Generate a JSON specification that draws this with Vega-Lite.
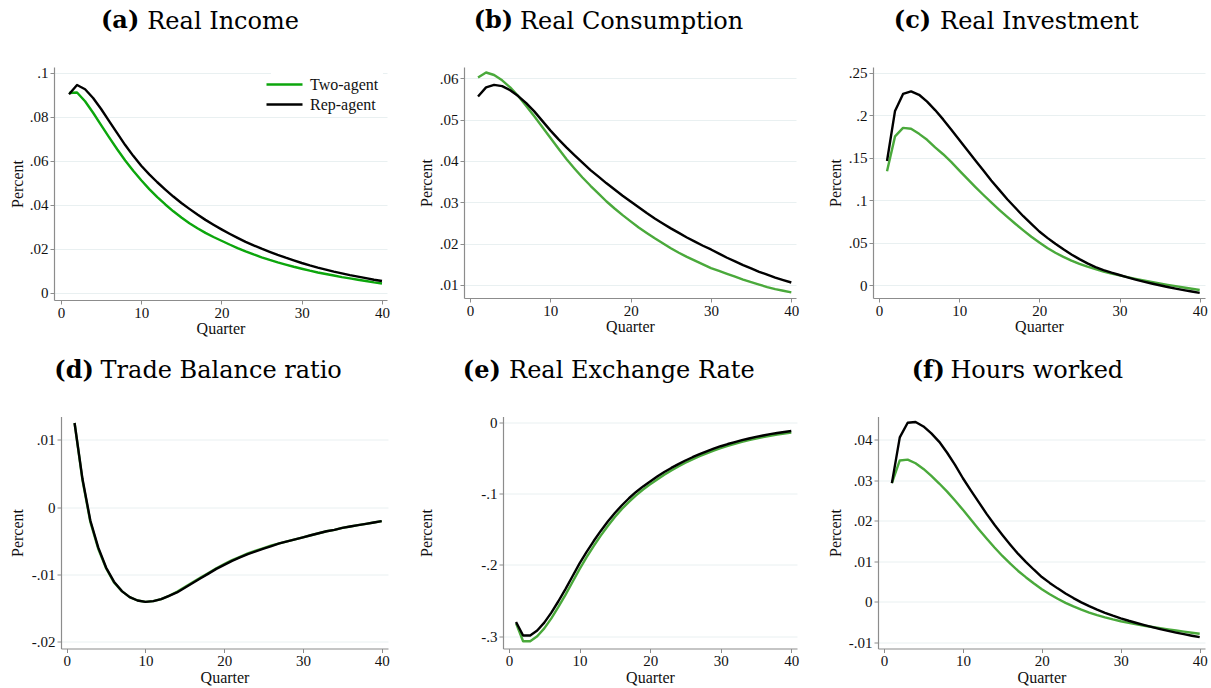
{
  "$schema": "https://vega.github.io/schema/vega-lite/v6.json",
  "background": "white",
  "padding": {"left": 9, "top": 9, "right": 2, "bottom": 2},
  "config": {
    "view": {"stroke": null},
    "font": "Liberation Serif",
    "axis": {
      "labelFont": "Liberation Serif", "labelFontSize": 15, "labelColor": "#111111",
      "titleFont": "Liberation Serif", "titleFontSize": 16, "titleFontWeight": "normal", "titleColor": "#111111",
      "domainColor": "#8c8c8c", "domainWidth": 1.2, "tickColor": "#8c8c8c", "tickSize": 4, "labelPadding": 2,
      "gridColor": "#e9f0f1", "gridWidth": 1, "labelFlush": false, "labelOverlap": false
    },
    "axisX": {"grid": false, "minExtent": 18.5, "maxExtent": 18.5, "titlePadding": 2, "labelPadding": 1, "labelAngle": 0},
    "axisTop": {"domain": false, "ticks": false, "labels": false, "grid": false,
                "titleFont": "DejaVu Serif", "titleFontSize": 24, "titleFontWeight": "normal", "titleColor": "#000000",
                "titleAlign": "left", "titleBaseline": "top", "titleAngle": 0, "titleY": -57.7},
    "axisY": {"grid": true, "titleAngle": 270, "titleBaseline": "alphabetic", "titlePadding": 2,
              "labelExpr": "replace(toString(datum.value), '0.', '.')"},
    "title": {"font": "DejaVu Serif", "fontSize": 24, "fontWeight": "bold", "color": "#000000",
              "anchor": "start", "frame": "group", "baseline": "top", "offset": -24},
    "line": {"strokeWidth": 2.4, "strokeJoin": "round"}
  },
  "datasets": {
    "income": [
      {"quarter": 1, "twoAgent": 0.0908, "repAgent": 0.0902},
      {"quarter": 2, "twoAgent": 0.0910, "repAgent": 0.0944},
      {"quarter": 3, "twoAgent": 0.0870, "repAgent": 0.0925},
      {"quarter": 4, "twoAgent": 0.0818, "repAgent": 0.0885},
      {"quarter": 5, "twoAgent": 0.0762, "repAgent": 0.0835},
      {"quarter": 6, "twoAgent": 0.0706, "repAgent": 0.0780},
      {"quarter": 7, "twoAgent": 0.0652, "repAgent": 0.0725},
      {"quarter": 8, "twoAgent": 0.0601, "repAgent": 0.0671},
      {"quarter": 9, "twoAgent": 0.0554, "repAgent": 0.0622},
      {"quarter": 10, "twoAgent": 0.0511, "repAgent": 0.0577},
      {"quarter": 11, "twoAgent": 0.0471, "repAgent": 0.0538},
      {"quarter": 12, "twoAgent": 0.0434, "repAgent": 0.0502},
      {"quarter": 13, "twoAgent": 0.0401, "repAgent": 0.0469},
      {"quarter": 14, "twoAgent": 0.0370, "repAgent": 0.0437},
      {"quarter": 15, "twoAgent": 0.0342, "repAgent": 0.0408},
      {"quarter": 16, "twoAgent": 0.0316, "repAgent": 0.0381},
      {"quarter": 17, "twoAgent": 0.0293, "repAgent": 0.0355},
      {"quarter": 18, "twoAgent": 0.0272, "repAgent": 0.0331},
      {"quarter": 19, "twoAgent": 0.0253, "repAgent": 0.0309},
      {"quarter": 20, "twoAgent": 0.0236, "repAgent": 0.0288},
      {"quarter": 21, "twoAgent": 0.0219, "repAgent": 0.0268},
      {"quarter": 22, "twoAgent": 0.0203, "repAgent": 0.0249},
      {"quarter": 23, "twoAgent": 0.0188, "repAgent": 0.0231},
      {"quarter": 24, "twoAgent": 0.0174, "repAgent": 0.0215},
      {"quarter": 25, "twoAgent": 0.0161, "repAgent": 0.0200},
      {"quarter": 26, "twoAgent": 0.0149, "repAgent": 0.0186},
      {"quarter": 27, "twoAgent": 0.0138, "repAgent": 0.0172},
      {"quarter": 28, "twoAgent": 0.0128, "repAgent": 0.0159},
      {"quarter": 29, "twoAgent": 0.0118, "repAgent": 0.0147},
      {"quarter": 30, "twoAgent": 0.0109, "repAgent": 0.0135},
      {"quarter": 31, "twoAgent": 0.0100, "repAgent": 0.0124},
      {"quarter": 32, "twoAgent": 0.0092, "repAgent": 0.0114},
      {"quarter": 33, "twoAgent": 0.0085, "repAgent": 0.0105},
      {"quarter": 34, "twoAgent": 0.0078, "repAgent": 0.0096},
      {"quarter": 35, "twoAgent": 0.0071, "repAgent": 0.0088},
      {"quarter": 36, "twoAgent": 0.0065, "repAgent": 0.0080},
      {"quarter": 37, "twoAgent": 0.0059, "repAgent": 0.0073},
      {"quarter": 38, "twoAgent": 0.0053, "repAgent": 0.0066},
      {"quarter": 39, "twoAgent": 0.0047, "repAgent": 0.0059},
      {"quarter": 40, "twoAgent": 0.0042, "repAgent": 0.0053}
    ],
    "consumption": [
      {"quarter": 1, "twoAgent": 0.0602, "repAgent": 0.0556},
      {"quarter": 2, "twoAgent": 0.0614, "repAgent": 0.0578},
      {"quarter": 3, "twoAgent": 0.0608, "repAgent": 0.0584},
      {"quarter": 4, "twoAgent": 0.0595, "repAgent": 0.0581},
      {"quarter": 5, "twoAgent": 0.0578, "repAgent": 0.0571},
      {"quarter": 6, "twoAgent": 0.0557, "repAgent": 0.0557},
      {"quarter": 7, "twoAgent": 0.0533, "repAgent": 0.0540},
      {"quarter": 8, "twoAgent": 0.0508, "repAgent": 0.0520},
      {"quarter": 9, "twoAgent": 0.0482, "repAgent": 0.0497},
      {"quarter": 10, "twoAgent": 0.0456, "repAgent": 0.0474},
      {"quarter": 11, "twoAgent": 0.0430, "repAgent": 0.0453},
      {"quarter": 12, "twoAgent": 0.0405, "repAgent": 0.0433},
      {"quarter": 13, "twoAgent": 0.0382, "repAgent": 0.0414},
      {"quarter": 14, "twoAgent": 0.0360, "repAgent": 0.0396},
      {"quarter": 15, "twoAgent": 0.0340, "repAgent": 0.0378},
      {"quarter": 16, "twoAgent": 0.0321, "repAgent": 0.0362},
      {"quarter": 17, "twoAgent": 0.0302, "repAgent": 0.0346},
      {"quarter": 18, "twoAgent": 0.0285, "repAgent": 0.0331},
      {"quarter": 19, "twoAgent": 0.0269, "repAgent": 0.0316},
      {"quarter": 20, "twoAgent": 0.0254, "repAgent": 0.0302},
      {"quarter": 21, "twoAgent": 0.0239, "repAgent": 0.0288},
      {"quarter": 22, "twoAgent": 0.0226, "repAgent": 0.0274},
      {"quarter": 23, "twoAgent": 0.0213, "repAgent": 0.0261},
      {"quarter": 24, "twoAgent": 0.0201, "repAgent": 0.0249},
      {"quarter": 25, "twoAgent": 0.0189, "repAgent": 0.0237},
      {"quarter": 26, "twoAgent": 0.0178, "repAgent": 0.0226},
      {"quarter": 27, "twoAgent": 0.0168, "repAgent": 0.0215},
      {"quarter": 28, "twoAgent": 0.0159, "repAgent": 0.0205},
      {"quarter": 29, "twoAgent": 0.0150, "repAgent": 0.0195},
      {"quarter": 30, "twoAgent": 0.0141, "repAgent": 0.0186},
      {"quarter": 31, "twoAgent": 0.0134, "repAgent": 0.0176},
      {"quarter": 32, "twoAgent": 0.0127, "repAgent": 0.0166},
      {"quarter": 33, "twoAgent": 0.0120, "repAgent": 0.0157},
      {"quarter": 34, "twoAgent": 0.0113, "repAgent": 0.0148},
      {"quarter": 35, "twoAgent": 0.0107, "repAgent": 0.0140},
      {"quarter": 36, "twoAgent": 0.0101, "repAgent": 0.0132},
      {"quarter": 37, "twoAgent": 0.0095, "repAgent": 0.0125},
      {"quarter": 38, "twoAgent": 0.0090, "repAgent": 0.0118},
      {"quarter": 39, "twoAgent": 0.0086, "repAgent": 0.0112},
      {"quarter": 40, "twoAgent": 0.0082, "repAgent": 0.0106}
    ],
    "investment": [
      {"quarter": 1, "twoAgent": 0.134, "repAgent": 0.146},
      {"quarter": 2, "twoAgent": 0.175, "repAgent": 0.205},
      {"quarter": 3, "twoAgent": 0.185, "repAgent": 0.225},
      {"quarter": 4, "twoAgent": 0.184, "repAgent": 0.228},
      {"quarter": 5, "twoAgent": 0.178, "repAgent": 0.224},
      {"quarter": 6, "twoAgent": 0.171, "repAgent": 0.216},
      {"quarter": 7, "twoAgent": 0.162, "repAgent": 0.206},
      {"quarter": 8, "twoAgent": 0.154, "repAgent": 0.195},
      {"quarter": 9, "twoAgent": 0.145, "repAgent": 0.183},
      {"quarter": 10, "twoAgent": 0.135, "repAgent": 0.171},
      {"quarter": 11, "twoAgent": 0.1252, "repAgent": 0.159},
      {"quarter": 12, "twoAgent": 0.1156, "repAgent": 0.147},
      {"quarter": 13, "twoAgent": 0.1063, "repAgent": 0.135},
      {"quarter": 14, "twoAgent": 0.0973, "repAgent": 0.123},
      {"quarter": 15, "twoAgent": 0.0886, "repAgent": 0.112},
      {"quarter": 16, "twoAgent": 0.0802, "repAgent": 0.101},
      {"quarter": 17, "twoAgent": 0.0721, "repAgent": 0.091},
      {"quarter": 18, "twoAgent": 0.0643, "repAgent": 0.081},
      {"quarter": 19, "twoAgent": 0.0568, "repAgent": 0.072},
      {"quarter": 20, "twoAgent": 0.0500, "repAgent": 0.063},
      {"quarter": 21, "twoAgent": 0.0436, "repAgent": 0.0555},
      {"quarter": 22, "twoAgent": 0.0380, "repAgent": 0.0485},
      {"quarter": 23, "twoAgent": 0.0331, "repAgent": 0.0420},
      {"quarter": 24, "twoAgent": 0.0288, "repAgent": 0.0360},
      {"quarter": 25, "twoAgent": 0.0250, "repAgent": 0.0305},
      {"quarter": 26, "twoAgent": 0.0216, "repAgent": 0.0255},
      {"quarter": 27, "twoAgent": 0.0186, "repAgent": 0.0210},
      {"quarter": 28, "twoAgent": 0.0159, "repAgent": 0.0175},
      {"quarter": 29, "twoAgent": 0.0135, "repAgent": 0.0145},
      {"quarter": 30, "twoAgent": 0.0114, "repAgent": 0.0118},
      {"quarter": 31, "twoAgent": 0.0093, "repAgent": 0.0090},
      {"quarter": 32, "twoAgent": 0.0073, "repAgent": 0.0064},
      {"quarter": 33, "twoAgent": 0.0054, "repAgent": 0.0040},
      {"quarter": 34, "twoAgent": 0.0036, "repAgent": 0.0018},
      {"quarter": 35, "twoAgent": 0.0019, "repAgent": -0.0003},
      {"quarter": 36, "twoAgent": 0.0002, "repAgent": -0.0023},
      {"quarter": 37, "twoAgent": -0.0014, "repAgent": -0.0042},
      {"quarter": 38, "twoAgent": -0.0029, "repAgent": -0.0060},
      {"quarter": 39, "twoAgent": -0.0044, "repAgent": -0.0077},
      {"quarter": 40, "twoAgent": -0.0059, "repAgent": -0.0092}
    ],
    "trade": [
      {"quarter": 1, "twoAgent": 0.0125, "repAgent": 0.0125},
      {"quarter": 2, "twoAgent": 0.0040, "repAgent": 0.0042},
      {"quarter": 3, "twoAgent": -0.0022, "repAgent": -0.0020},
      {"quarter": 4, "twoAgent": -0.0062, "repAgent": -0.0060},
      {"quarter": 5, "twoAgent": -0.0091, "repAgent": -0.0090},
      {"quarter": 6, "twoAgent": -0.0112, "repAgent": -0.0111},
      {"quarter": 7, "twoAgent": -0.0125, "repAgent": -0.0125},
      {"quarter": 8, "twoAgent": -0.0134, "repAgent": -0.0134},
      {"quarter": 9, "twoAgent": -0.0139, "repAgent": -0.0139},
      {"quarter": 10, "twoAgent": -0.0141, "repAgent": -0.0141},
      {"quarter": 11, "twoAgent": -0.0140, "repAgent": -0.0140},
      {"quarter": 12, "twoAgent": -0.0137, "repAgent": -0.0137},
      {"quarter": 13, "twoAgent": -0.0132, "repAgent": -0.0132},
      {"quarter": 14, "twoAgent": -0.0126, "repAgent": -0.0127},
      {"quarter": 15, "twoAgent": -0.0119, "repAgent": -0.0120},
      {"quarter": 16, "twoAgent": -0.0112, "repAgent": -0.0113},
      {"quarter": 17, "twoAgent": -0.0105, "repAgent": -0.0106},
      {"quarter": 18, "twoAgent": -0.0098, "repAgent": -0.0099},
      {"quarter": 19, "twoAgent": -0.0091, "repAgent": -0.0092},
      {"quarter": 20, "twoAgent": -0.0085, "repAgent": -0.0086},
      {"quarter": 21, "twoAgent": -0.0079, "repAgent": -0.0080},
      {"quarter": 22, "twoAgent": -0.0074, "repAgent": -0.0075},
      {"quarter": 23, "twoAgent": -0.0069, "repAgent": -0.0070},
      {"quarter": 24, "twoAgent": -0.0065, "repAgent": -0.0066},
      {"quarter": 25, "twoAgent": -0.0061, "repAgent": -0.0062},
      {"quarter": 26, "twoAgent": -0.0057, "repAgent": -0.0058},
      {"quarter": 27, "twoAgent": -0.0054, "repAgent": -0.0054},
      {"quarter": 28, "twoAgent": -0.0051, "repAgent": -0.0051},
      {"quarter": 29, "twoAgent": -0.0048, "repAgent": -0.0048},
      {"quarter": 30, "twoAgent": -0.0045, "repAgent": -0.0045},
      {"quarter": 31, "twoAgent": -0.0042, "repAgent": -0.0042},
      {"quarter": 32, "twoAgent": -0.0039, "repAgent": -0.0039},
      {"quarter": 33, "twoAgent": -0.0036, "repAgent": -0.0036},
      {"quarter": 34, "twoAgent": -0.0034, "repAgent": -0.0034},
      {"quarter": 35, "twoAgent": -0.0031, "repAgent": -0.0031},
      {"quarter": 36, "twoAgent": -0.0029, "repAgent": -0.0029},
      {"quarter": 37, "twoAgent": -0.0027, "repAgent": -0.0027},
      {"quarter": 38, "twoAgent": -0.0025, "repAgent": -0.0025},
      {"quarter": 39, "twoAgent": -0.0023, "repAgent": -0.0023},
      {"quarter": 40, "twoAgent": -0.0021, "repAgent": -0.0021}
    ],
    "exchange": [
      {"quarter": 1, "twoAgent": -0.282, "repAgent": -0.280},
      {"quarter": 2, "twoAgent": -0.307, "repAgent": -0.299},
      {"quarter": 3, "twoAgent": -0.307, "repAgent": -0.299},
      {"quarter": 4, "twoAgent": -0.300, "repAgent": -0.292},
      {"quarter": 5, "twoAgent": -0.289, "repAgent": -0.281},
      {"quarter": 6, "twoAgent": -0.275, "repAgent": -0.267},
      {"quarter": 7, "twoAgent": -0.259, "repAgent": -0.251},
      {"quarter": 8, "twoAgent": -0.242, "repAgent": -0.234},
      {"quarter": 9, "twoAgent": -0.224, "repAgent": -0.216},
      {"quarter": 10, "twoAgent": -0.206, "repAgent": -0.198},
      {"quarter": 11, "twoAgent": -0.1893, "repAgent": -0.1818},
      {"quarter": 12, "twoAgent": -0.1736, "repAgent": -0.1666},
      {"quarter": 13, "twoAgent": -0.1590, "repAgent": -0.1524},
      {"quarter": 14, "twoAgent": -0.1455, "repAgent": -0.1393},
      {"quarter": 15, "twoAgent": -0.1330, "repAgent": -0.1273},
      {"quarter": 16, "twoAgent": -0.1216, "repAgent": -0.1164},
      {"quarter": 17, "twoAgent": -0.1116, "repAgent": -0.1066},
      {"quarter": 18, "twoAgent": -0.1025, "repAgent": -0.0978},
      {"quarter": 19, "twoAgent": -0.0944, "repAgent": -0.0900},
      {"quarter": 20, "twoAgent": -0.0872, "repAgent": -0.0830},
      {"quarter": 21, "twoAgent": -0.0802, "repAgent": -0.0762},
      {"quarter": 22, "twoAgent": -0.0737, "repAgent": -0.0699},
      {"quarter": 23, "twoAgent": -0.0677, "repAgent": -0.0641},
      {"quarter": 24, "twoAgent": -0.0621, "repAgent": -0.0587},
      {"quarter": 25, "twoAgent": -0.0569, "repAgent": -0.0537},
      {"quarter": 26, "twoAgent": -0.0521, "repAgent": -0.0491},
      {"quarter": 27, "twoAgent": -0.0477, "repAgent": -0.0448},
      {"quarter": 28, "twoAgent": -0.0436, "repAgent": -0.0408},
      {"quarter": 29, "twoAgent": -0.0398, "repAgent": -0.0371},
      {"quarter": 30, "twoAgent": -0.0364, "repAgent": -0.0337},
      {"quarter": 31, "twoAgent": -0.0332, "repAgent": -0.0306},
      {"quarter": 32, "twoAgent": -0.0303, "repAgent": -0.0278},
      {"quarter": 33, "twoAgent": -0.0276, "repAgent": -0.0252},
      {"quarter": 34, "twoAgent": -0.0251, "repAgent": -0.0228},
      {"quarter": 35, "twoAgent": -0.0229, "repAgent": -0.0206},
      {"quarter": 36, "twoAgent": -0.0209, "repAgent": -0.0186},
      {"quarter": 37, "twoAgent": -0.0190, "repAgent": -0.0168},
      {"quarter": 38, "twoAgent": -0.0174, "repAgent": -0.0152},
      {"quarter": 39, "twoAgent": -0.0159, "repAgent": -0.0137},
      {"quarter": 40, "twoAgent": -0.0146, "repAgent": -0.0124}
    ],
    "hours": [
      {"quarter": 1, "twoAgent": 0.0293, "repAgent": 0.0293},
      {"quarter": 2, "twoAgent": 0.0349, "repAgent": 0.0406},
      {"quarter": 3, "twoAgent": 0.0351, "repAgent": 0.0442},
      {"quarter": 4, "twoAgent": 0.0342, "repAgent": 0.0444},
      {"quarter": 5, "twoAgent": 0.0328, "repAgent": 0.0433},
      {"quarter": 6, "twoAgent": 0.0311, "repAgent": 0.0416},
      {"quarter": 7, "twoAgent": 0.0292, "repAgent": 0.0395},
      {"quarter": 8, "twoAgent": 0.0272, "repAgent": 0.0368},
      {"quarter": 9, "twoAgent": 0.0250, "repAgent": 0.0338},
      {"quarter": 10, "twoAgent": 0.0227, "repAgent": 0.0305},
      {"quarter": 11, "twoAgent": 0.0203, "repAgent": 0.0275},
      {"quarter": 12, "twoAgent": 0.0179, "repAgent": 0.0246},
      {"quarter": 13, "twoAgent": 0.0156, "repAgent": 0.0217},
      {"quarter": 14, "twoAgent": 0.0134, "repAgent": 0.0190},
      {"quarter": 15, "twoAgent": 0.0113, "repAgent": 0.0165},
      {"quarter": 16, "twoAgent": 0.0094, "repAgent": 0.0141},
      {"quarter": 17, "twoAgent": 0.0076, "repAgent": 0.0118},
      {"quarter": 18, "twoAgent": 0.0060, "repAgent": 0.0098},
      {"quarter": 19, "twoAgent": 0.0045, "repAgent": 0.0079},
      {"quarter": 20, "twoAgent": 0.0031, "repAgent": 0.0061},
      {"quarter": 21, "twoAgent": 0.00185, "repAgent": 0.00465},
      {"quarter": 22, "twoAgent": 0.00073, "repAgent": 0.0033},
      {"quarter": 23, "twoAgent": -0.00027, "repAgent": 0.00205},
      {"quarter": 24, "twoAgent": -0.00117, "repAgent": 0.0009},
      {"quarter": 25, "twoAgent": -0.00197, "repAgent": -0.00015},
      {"quarter": 26, "twoAgent": -0.00268, "repAgent": -0.0011},
      {"quarter": 27, "twoAgent": -0.00331, "repAgent": -0.00196},
      {"quarter": 28, "twoAgent": -0.00387, "repAgent": -0.00274},
      {"quarter": 29, "twoAgent": -0.00437, "repAgent": -0.00345},
      {"quarter": 30, "twoAgent": -0.00482, "repAgent": -0.0041},
      {"quarter": 31, "twoAgent": -0.00522, "repAgent": -0.0047},
      {"quarter": 32, "twoAgent": -0.00559, "repAgent": -0.00525},
      {"quarter": 33, "twoAgent": -0.00593, "repAgent": -0.00578},
      {"quarter": 34, "twoAgent": -0.00625, "repAgent": -0.00628},
      {"quarter": 35, "twoAgent": -0.00655, "repAgent": -0.00675},
      {"quarter": 36, "twoAgent": -0.00684, "repAgent": -0.0072},
      {"quarter": 37, "twoAgent": -0.00712, "repAgent": -0.00762},
      {"quarter": 38, "twoAgent": -0.00739, "repAgent": -0.00802},
      {"quarter": 39, "twoAgent": -0.00765, "repAgent": -0.0084},
      {"quarter": 40, "twoAgent": -0.0079, "repAgent": -0.00876}
    ]
  },
  "vconcat": [
    {
      "hconcat": [
        {
          "data": {"name": "income"},
          "width": 333, "height": 233,
          "title": {"text": "(a)", "dx": 47},
          "transform": [{"fold": ["twoAgent", "repAgent"], "as": ["model", "value"]}],
          "encoding": {
            "x": {"field": "quarter", "type": "quantitative",
                  "scale": {"domain": [-0.872, 40.623], "nice": false, "zero": false},
                  "axis": {"values": [0, 10, 20, 30, 40], "title": "Quarter"}},
            "y": {"field": "value", "type": "quantitative",
                  "scale": {"domain": [-0.00332, 0.10259], "nice": false, "zero": false},
                  "axis": {"values": [0, 0.02, 0.04, 0.06, 0.08, 0.1], "title": "Percent", "minExtent": 29.7, "maxExtent": 29.7}}
          },
          "layer": [
            {"transform": [{"filter": "datum.model === 'twoAgent'"}], "mark": {"type": "line"},
             "encoding": {"color": {"datum": "Two-agent", "type": "nominal",
               "scale": {"domain": ["Two-agent", "Rep-agent"], "range": ["#0ca60c", "#000000"]},
               "legend": {"title": null, "orient": "top-right", "offset": 4, "padding": 4, "fillColor": "white",
                          "symbolType": "M-2.25,0H2.25", "symbolSize": 256, "symbolStrokeWidth": 2.6,
                          "labelFont": "Liberation Serif", "labelFontSize": 16, "labelColor": "#111111",
                          "rowPadding": 2, "labelOffset": 16}}}},
            {"transform": [{"filter": "datum.model === 'repAgent'"}], "mark": {"type": "line"},
             "encoding": {"color": {"datum": "Rep-agent", "type": "nominal"},
               "x": {"field": "quarter", "type": "quantitative",
                     "scale": {"domain": [-0.872, 40.623], "nice": false, "zero": false},
                     "axis": {"orient": "top", "title": "Real Income", "titleX": 92.8}}}}
          ],
          "resolve": {"axis": {"x": "independent"}}
        },
        {
          "data": {"name": "consumption"},
          "width": 332, "height": 231,
          "title": {"text": "(b)", "dx": 9.7},
          "transform": [{"fold": ["twoAgent", "repAgent"], "as": ["model", "value"]}],
          "encoding": {
            "x": {"field": "quarter", "type": "quantitative",
                  "scale": {"domain": [-0.747, 40.585], "nice": false, "zero": false},
                  "axis": {"values": [0, 10, 20, 30, 40], "title": "Quarter"}},
            "y": {"field": "value", "type": "quantitative",
                  "scale": {"domain": [0.006855, 0.062733], "nice": false, "zero": false},
                  "axis": {"values": [0.01, 0.02, 0.03, 0.04, 0.05, 0.06], "title": "Percent", "minExtent": 30.3, "maxExtent": 30.3}}
          },
          "layer": [
            {"transform": [{"filter": "datum.model === 'twoAgent'"}], "mark": {"type": "line", "stroke": "#4aa93b"}},
            {"transform": [{"filter": "datum.model === 'repAgent'"}], "mark": {"type": "line", "stroke": "#000000"},
             "encoding": {"x": {"field": "quarter", "type": "quantitative",
                     "scale": {"domain": [-0.747, 40.585], "nice": false, "zero": false},
                     "axis": {"orient": "top", "title": "Real Consumption", "titleX": 55.5}}}}
          ],
          "resolve": {"axis": {"x": "independent"}}
        },
        {
          "data": {"name": "investment"},
          "width": 332, "height": 231,
          "title": {"text": "(c)", "dx": 20.8},
          "transform": [{"fold": ["twoAgent", "repAgent"], "as": ["model", "value"]}],
          "encoding": {
            "x": {"field": "quarter", "type": "quantitative",
                  "scale": {"domain": [-0.748, 40.661], "nice": false, "zero": false},
                  "axis": {"values": [0, 10, 20, 30, 40], "title": "Quarter"}},
            "y": {"field": "value", "type": "quantitative",
                  "scale": {"domain": [-0.015308, 0.256712], "nice": false, "zero": false},
                  "axis": {"values": [0, 0.05, 0.1, 0.15, 0.2, 0.25], "title": "Percent", "minExtent": 30.3, "maxExtent": 30.3}}
          },
          "layer": [
            {"transform": [{"filter": "datum.model === 'twoAgent'"}], "mark": {"type": "line", "stroke": "#4aa93b"}},
            {"transform": [{"filter": "datum.model === 'repAgent'"}], "mark": {"type": "line", "stroke": "#000000"},
             "encoding": {"x": {"field": "quarter", "type": "quantitative",
                     "scale": {"domain": [-0.748, 40.661], "nice": false, "zero": false},
                     "axis": {"orient": "top", "title": "Real Investment", "titleX": 66.6}}}}
          ],
          "resolve": {"axis": {"x": "independent"}}
        }
      ],
      "spacing": 77,
      "bounds": "flush",
      "resolve": {"scale": {"color": "independent"}, "legend": {"color": "independent"}}
    },
    {
      "hconcat": [
        {
          "data": {"name": "trade"},
          "width": 334, "height": 232,
          "title": {"text": "(d)", "dx": 0.3},
          "transform": [{"fold": ["twoAgent", "repAgent"], "as": ["model", "value"]}],
          "encoding": {
            "x": {"field": "quarter", "type": "quantitative",
                  "scale": {"domain": [-0.724, 40.8], "range": [7, 334], "nice": false, "zero": false},
                  "axis": {"values": [0, 10, 20, 30, 40], "title": "Quarter"}},
            "y": {"field": "value", "type": "quantitative",
                  "scale": {"domain": [-0.021041, 0.013466], "nice": false, "zero": false},
                  "axis": {"values": [-0.02, -0.01, 0, 0.01], "title": "Percent", "offset": -7, "minExtent": 36.7, "maxExtent": 36.7}}
          },
          "layer": [
            {"transform": [{"filter": "datum.model === 'twoAgent'"}], "mark": {"type": "line", "stroke": "#4aa93b"}},
            {"transform": [{"filter": "datum.model === 'repAgent'"}], "mark": {"type": "line", "stroke": "#000000"},
             "encoding": {"x": {"field": "quarter", "type": "quantitative",
                     "scale": {"domain": [-0.724, 40.8], "range": [7, 334], "nice": false, "zero": false},
                     "axis": {"orient": "top", "title": "Trade Balance ratio", "titleX": 46.1}}}}
          ],
          "resolve": {"axis": {"x": "independent"}}
        },
        {
          "data": {"name": "exchange"},
          "width": 328, "height": 232,
          "title": {"text": "(e)", "dx": -6.2},
          "transform": [{"fold": ["twoAgent", "repAgent"], "as": ["model", "value"]}],
          "encoding": {
            "x": {"field": "quarter", "type": "quantitative",
                  "scale": {"domain": [-0.85, 40.808], "range": [34, 328], "nice": false, "zero": false},
                  "axis": {"values": [0, 10, 20, 30, 40], "title": "Quarter"}},
            "y": {"field": "value", "type": "quantitative",
                  "scale": {"domain": [-0.31724, 0.00799], "nice": false, "zero": false},
                  "axis": {"values": [-0.3, -0.2, -0.1, 0], "title": "Percent", "offset": -34, "minExtent": 69.3, "maxExtent": 69.3}}
          },
          "layer": [
            {"transform": [{"filter": "datum.model === 'twoAgent'"}], "mark": {"type": "line", "stroke": "#4aa93b"}},
            {"transform": [{"filter": "datum.model === 'repAgent'"}], "mark": {"type": "line", "stroke": "#000000"},
             "encoding": {"x": {"field": "quarter", "type": "quantitative",
                     "scale": {"domain": [-0.85, 40.808], "range": [34, 328], "nice": false, "zero": false},
                     "axis": {"orient": "top", "title": "Real Exchange Rate", "titleX": 39.6}}}}
          ],
          "resolve": {"axis": {"x": "independent"}}
        },
        {
          "data": {"name": "hours"},
          "width": 327, "height": 232,
          "title": {"text": "(f)", "dx": 33.7},
          "transform": [{"fold": ["twoAgent", "repAgent"], "as": ["model", "value"]}],
          "encoding": {
            "x": {"field": "quarter", "type": "quantitative",
                  "scale": {"domain": [-0.76, 40.672], "nice": false, "zero": false},
                  "axis": {"values": [0, 10, 20, 30, 40], "title": "Quarter"}},
            "y": {"field": "value", "type": "quantitative",
                  "scale": {"domain": [-0.011556, 0.045756], "nice": false, "zero": false},
                  "axis": {"values": [-0.01, 0, 0.01, 0.02, 0.03, 0.04], "title": "Percent", "minExtent": 35.3, "maxExtent": 35.3}}
          },
          "layer": [
            {"transform": [{"filter": "datum.model === 'twoAgent'"}], "mark": {"type": "line", "stroke": "#4aa93b"}},
            {"transform": [{"filter": "datum.model === 'repAgent'"}], "mark": {"type": "line", "stroke": "#000000"},
             "encoding": {"x": {"field": "quarter", "type": "quantitative",
                     "scale": {"domain": [-0.76, 40.672], "nice": false, "zero": false},
                     "axis": {"orient": "top", "title": "Hours worked", "titleX": 71.9}}}}
          ],
          "resolve": {"axis": {"x": "independent"}}
        }
      ],
      "spacing": 81,
      "bounds": "flush"
    }
  ],
  "spacing": 21.5,
  "resolve": {"scale": {"color": "independent"}, "legend": {"color": "independent"}}
}
